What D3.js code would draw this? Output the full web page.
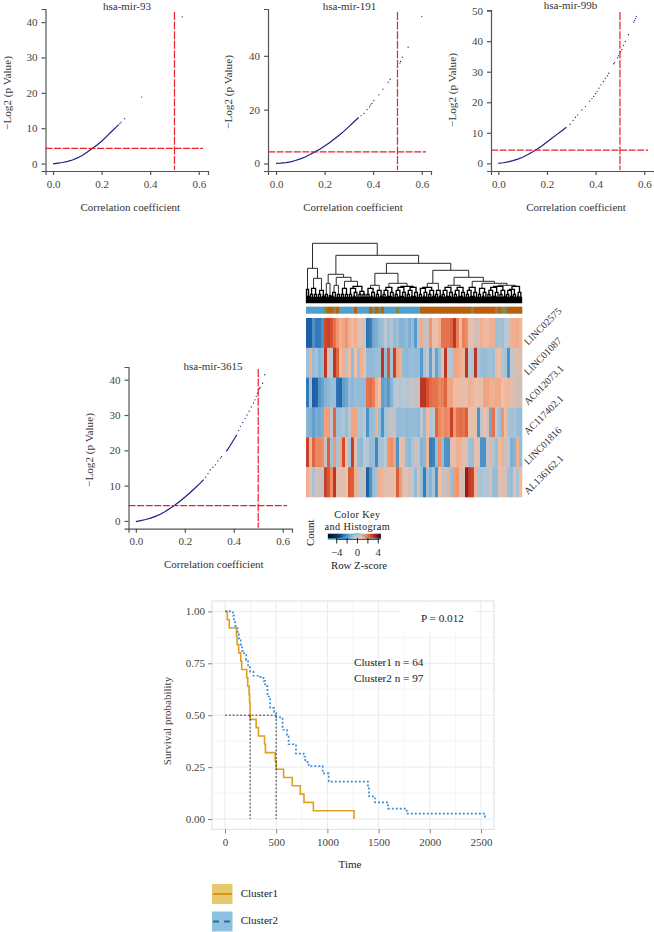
<!DOCTYPE html>
<html><head><meta charset="utf-8">
<style>html,body{margin:0;padding:0;background:#fff}svg{display:block}text{font-family:"Liberation Serif",serif}</style>
<script src="https://cdn.jsdelivr.net/npm/d3@7/dist/d3.min.js"></script>
</head><body><svg id="c" width="654" height="932"></svg>
<script>
// ---- volcano-like correlation panels
const mir93DenseR=[0,.02,.04,.06,.08,.10,.12,.14,.16,.18,.20,.22,.24,.26,.27];
const mir93DenseP=[-.1,.1,.3,.6,1.0,1.6,2.3,3.2,4.2,5.2,6.3,7.6,9.0,10.3,11];
const mir93DotR=[.275,.28,.295,.365,.532];
const mir93DotP=[11.3,11.7,12.7,18.8,41.5];
const mir191DenseR=[0,.02,.04,.06,.08,.10,.12,.14,.16,.18,.20,.22,.24,.26,.28,.30,.32,.34];
const mir191DenseP=[0,.1,.3,.6,1.1,1.7,2.4,3.3,4.3,5.3,6.5,7.7,9.1,10.5,12,13.7,15.4,17.1];
const mir191DotR=[.35,.362,.375,.385,.39,.395,.403,.423,.44,.462,.47,.51,.513,.52,.544,.6];
const mir191DotP=[17.8,18.6,20,21,21.7,22.3,23.4,25.5,27.6,30.2,31.3,37.3,37.9,39.5,43.2,54.6];
const mir99DenseR=[0,.02,.04,.06,.08,.10,.12,.14,.16,.18,.20,.22,.24,.26,.28];
const mir99DenseP=[0,.2,.5,.9,1.4,2.0,2.8,3.7,4.7,5.8,7,8.2,9.4,10.6,11.8];
const mir99DotR=[.295,.307,.317,.326,.344,.358,.375,.385,.392,.40,.406,.414,.422,.432,.44,.448,.454,.474,.478,.49,.494,.499,.503,.508,.515,.522,.535,.557,.56,.567,.565];
const mir99DotP=[12.8,14,15.1,15.9,17.5,18.6,20.4,21.2,21.9,22.8,23.5,24.6,25.7,26.8,27.9,28.7,29.5,32.6,33,34.5,35.2,36.1,36.6,37.2,38.6,39.9,42.1,46.2,46.8,48.1,47.4];
const mir3615DenseR=[0,.02,.04,.06,.08,.10,.12,.14,.16,.18,.20,.22,.24,.26,.277];
const mir3615DenseP=[-.2,.1,.4,.8,1.3,1.9,2.7,3.6,4.5,5.6,6.7,7.9,9.2,10.5,11.7];
const mir3615Dense2R=[.37,.385,.40,.413];
const mir3615Dense2P=[19.7,21.3,23,24.4];
const mir3615Dot1R=[.285,.295,.304,.315,.325,.335,.345,.35];
const mir3615Dot1P=[12.4,13.4,14.5,15.2,15.9,17,17.8,18.2];
const mir3615Dot2R=[.42,.427,.437,.446,.454,.463,.472,.481,.487,.492,.497,.502,.505,.508,.518,.527];
const mir3615Dot2P=[25.6,26.8,27.9,29,30,31.1,32.3,33.4,34.3,35.3,36.2,37.2,37.5,37.8,39,41.4];
const xTicks=[0,.2,.4,.6];
const pCut=4.32, rCut=.5;

// ---- heatmap z-scores (72 columns)
const geneNames=["LINC02575","LINC01087","AC012073.1","AC117402.1","LINC01816","AL136162.1"];
const rowLinc02575=[-3,-3,-2,-2.5,-2.5,-2,2.6,2.8,2.5,2,1.5,1,1.2,1.5,1,.8,1,.4,.4,-.3,-2.6,-2.4,-1.5,-1.3,-1,-.8,-.3,-.8,-.5,-1,-.8,-1.2,-1.2,-1,-1.3,-1,-1.8,-.4,1.1,-.2,-.1,1.5,.6,.6,1,2,2,2,2.2,3,1.8,.8,1.8,1.6,.5,.5,.1,.2,1,.8,.8,1,1,-.8,-.7,-.8,-.3,-.3,1,1,1.1,.9];
const rowLinc01087=[-.8,1,-1,-.7,-1.2,-1,3,.4,-.3,3,2.2,.8,1,-.5,.8,-1,.7,-.8,1,.5,-1,-1.1,-1,-.9,-.8,3,-1,2.4,-.6,2.8,1.2,1,-1,-1.1,-1,-.9,-1,-1,-1.8,-.6,-.3,-1.7,-.3,-1.6,-1,.6,3,-.2,-.5,1.2,1.2,1,.9,3,-.3,-.5,3,-.7,-.9,-1,-.8,-.7,-.9,.4,.7,-.5,-.6,-2,-.3,.3,.3,.2];
const rowAc012073=[-2.5,-.8,-3,-2.9,-1.9,-1.6,-1.2,-1.1,-.9,-.9,-2.6,-2.8,-1.7,-1.5,-1,-1.1,-.9,-1,-1,-1,2,2.1,1.8,1,.7,-1.7,-1.5,-1.8,-1.2,-.4,-.3,-.5,-.3,-.4,-.2,-.3,-.1,-.1,3,3,2.5,2.1,2,2,1.7,1.8,2.2,1.2,1.2,.8,.8,.5,.5,.5,1,.9,.6,.6,.5,1.2,1.2,1,1,1.1,1.1,.7,.8,.9,.4,.1,.1,0];
const rowAc117402=[-1.2,-1.3,-1.7,-1.4,-1.5,-1.3,1.3,1.3,-.2,2.2,-.8,-.7,-.5,-1,-.2,1.2,1.2,-.6,-.6,-.3,-2,-1,-.9,1,-.9,-2,-.7,-.5,-.1,-.2,-1,-1,-.9,-1.1,-1,-1,-1,-1.1,-.3,-1,.8,-.5,-.3,2.2,1.7,1.5,1.7,1.6,2.8,1.4,2,2.1,2,2.3,.6,.6,.4,-2,-.2,.7,.3,-1.5,2,-.3,-.8,1.5,.5,-.6,-.7,-.6,-.9,-1];
const rowLinc01816=[2.8,.9,2.2,1.7,1.7,1.6,-.1,2.3,-.8,1.4,-.6,1.1,2.6,.5,-.6,2.8,.4,-1,-1.1,-.3,-.4,-1,-.9,-2.2,-.7,-.6,-.3,1.5,1.6,1.2,-2,.6,.3,-1,-1.1,-.6,-.1,-.2,-1.2,-1.1,.9,-2.4,-2.3,-1,1.6,-1,-2,-2,.4,.4,1,1,.4,.3,-.8,-.9,.5,.3,-2,-2,-.2,.9,-.5,-.9,.8,1,-.1,-.2,-1.3,-1.2,1,-1];
const rowAl136162=[1,.5,-.6,.3,-.1,-.2,2.8,2.4,1.6,3,.4,.5,.4,.7,2.4,2.3,1,-.1,-.2,-.1,-3,-2,-1,-.7,1,.9,.4,.4,.5,.5,2.3,1.4,.4,.5,.1,-.3,-1,.3,-.9,-2.4,-.8,-1.2,-.6,-2,.7,-.1,-.1,1,-.9,1.4,1.5,.1,.1,3.6,2.9,2.7,.9,-.5,-.6,-.4,-.5,.3,-.9,-1,.4,.3,.2,-.8,-1,.4,-.6,.8];
const heatRows=[rowLinc02575,rowLinc01087,rowAc012073,rowAc117402,rowLinc01816,rowAl136162];
const sideGroups=[0,0,0,0,0,0,2,1,1,2,1,0,0,0,0,0,1,0,0,0,0,1,2,1,2,1,0,0,0,0,2,0,0,0,0,0,0,0,1,1,1,1,1,1,1,1,1,1,1,1,1,1,1,1,1,2,1,1,1,1,1,1,1,2,1,2,2,1,1,1,1,1];
const colorStops=[-5.7,-3.6,-3,-2,-1,-.3,0,.7,1.5,2.5,3.5,4.5];
const colorValues=["#0a0a12","#0d3b78","#1d5fa6","#4b92c6","#94bcd9","#b9c8d3","#cfbdb7","#efbfa6","#f0956d","#d8502e","#a01c20","#3c0308"];
const keyTicks=[-4,-2,0,2,4];
const keyLabels=[-4,0,4];
const histZ=[-5.7,-4.5,-3.5,-2.5,-1.5,-.6,0,.6,1.5,2.5,3.5,4.5];
const histN=[.1,.1,.15,.3,.65,.95,1,.9,.55,.25,.1,.05];

// ---- dendrogram: [height, left, right]; 0 is a leaf
const a3=[9,0,[6,0,0]], b4=[11,[7,0,0],[6,0,0]], c5=[13,a3,[7,0,0]], d7=[15,a3,b4], e9=[16,c5,b4], f12=[17,[14,c5,a3],b4];
const cladeA=[35,[14,0,[7,0,0]],[25,[15,a3,a3],c5]];
const cladeB=[29,[20,a3,[8,0,0]],[26,[18,b4,a3],[22,[15,a3,a3],[17,d7,[12,a3,a3]]]]];
const cladeC=[30,[18,d7,c5],[20,e9,[17,e9,e9]]];
const cladeD=[33,[20,[16,d7,c5],c5],[26,[18,e9,e9],[22,e9,[20,d7,[18,[17,e9,c5],f12]]]]];
const dendroRoot=[60,cladeA,[48,cladeB,[40,cladeC,cladeD]]];

// ---- survival curves
const c1Time=[0,23,42,112,118,134,154,163,212,222,235,240,245,304,327,386,395,490,500,572,657,735,771,863,1260];
const c1Surv=[1,.96,.92,.88,.84,.80,.76,.72,.68,.64,.60,.56,.48,.44,.40,.36,.32,.28,.24,.20,.16,.12,.08,.04,0];
const c2Time=[0,78,88,98,114,124,134,154,167,186,206,225,245,278,343,376,392,415,441,480,500,562,605,621,693,768,784,817,954,1013,1396,1406,1445,1465,1592,1775,2539];
const c2Surv=[1,.98,.95,.93,.92,.89,.87,.84,.81,.79,.765,.73,.71,.69,.685,.665,.64,.59,.535,.515,.49,.43,.405,.36,.315,.30,.275,.255,.22,.18,.155,.11,.10,.08,.05,.026,0];
const medianTimes=[245,500];
const kmXTicks=[0,500,1000,1500,2000,2500];
const kmYTicks=[0,.25,.5,.75,1];
const kmXMinor=[250,750,1250,1750,2250];
const kmYMinor=[.125,.375,.625,.875];

const svg=d3.select("#c");
const zip=(a,b)=>a.map((v,i)=>[v,b[i]]);
const inkTick="#444", navy="#1b2080", red="#e9202c";

function panel(o){
  const x=d3.scaleLinear().domain(o.xd).range(o.xr);
  const y=d3.scaleLinear().domain(o.yd).range(o.yr);
  const g=svg.append("g");
  const ax=g.append("g").attr("transform",`translate(0,${o.yr[0]})`).call(d3.axisBottom(x).tickValues(xTicks).tickFormat(d3.format(".1f")).tickSizeOuter(0).tickSize(4).tickPadding(5));
  const ay=g.append("g").attr("transform",`translate(${o.xr[0]},0)`).call(d3.axisLeft(y).tickValues(o.yt).tickSizeOuter(0).tickSize(4).tickPadding(4));
  [ax,ay].forEach(a=>{a.selectAll("text").attr("font-size",11).attr("fill",inkTick).style("font-family",'"Liberation Serif",serif');a.selectAll("line,path").attr("stroke","#555").attr("stroke-width",1.2);});
  const line=d3.line().x(d=>x(d[0])).y(d=>y(d[1]));
  o.dense.forEach(d=>g.append("path").attr("d",line(d)).attr("fill","none").attr("stroke",navy).attr("stroke-width",1.2));
  o.dots.forEach(d=>g.selectAll(null).data(d).join("circle").attr("cx",v=>x(v[0])).attr("cy",v=>y(v[1])).attr("r",.65).attr("fill",navy));
  g.append("line").attr("x1",o.xr[0]).attr("x2",o.hEnd).attr("y1",y(pCut)).attr("y2",y(pCut)).attr("stroke",red).attr("stroke-width",1.2).attr("stroke-dasharray","7 1.6");
  g.append("line").attr("x1",x(rCut)).attr("x2",x(rCut)).attr("y1",o.vTop).attr("y2",o.yr[0]-1).attr("stroke",red).attr("stroke-width",1.2).attr("stroke-dasharray","8 1.6");
  g.append("text").attr("x",o.titleX).attr("y",o.titleY).attr("text-anchor","middle").attr("font-size",11).attr("fill","#333").text(o.title);
  g.append("text").attr("x",(o.xr[0]+o.xr[1])/2+3.5).attr("y",o.yr[0]+39.5).attr("text-anchor","middle").attr("font-size",11).attr("fill","#333").text("Correlation coefficient");
  g.append("text").attr("transform",`translate(${o.ylX},${o.ylY}) rotate(-90)`).attr("text-anchor","middle").attr("font-size",11.2).attr("fill","#333").text("−Log2 (p Value)");
}
panel({title:"hsa-mir-93",titleX:127,titleY:9.5,xd:[-.031,.638],xr:[45.5,208],yd:[-2.1,43.7],yr:[171,9],yt:[0,10,20,30,40],hEnd:203,vTop:12,
  dense:[zip(mir93DenseR,mir93DenseP)],dots:[zip(mir93DotR,mir93DotP)],ylX:11,ylY:93});
panel({title:"hsa-mir-191",titleX:349.5,titleY:9.5,xd:[-.033,.638],xr:[268,431],yd:[-2.8,57.4],yr:[171,9],yt:[0,20,40],hEnd:426,vTop:12,
  dense:[zip(mir191DenseR,mir191DenseP)],dots:[zip(mir191DotR,mir191DotP)],ylX:232,ylY:92});
panel({title:"hsa-mir-99b",titleX:570.5,titleY:8.5,xd:[-.03,.64],xr:[491,654],yd:[-2.5,50.2],yr:[171,10],yt:[0,10,20,30,40,50],hEnd:648,vTop:12,
  dense:[zip(mir99DenseR,mir99DenseP)],dots:[zip(mir99DotR,mir99DotP)],ylX:456,ylY:90});
panel({title:"hsa-mir-3615",titleX:213,titleY:369.5,xd:[-.03,.638],xr:[128.5,292],yd:[-2.2,43.6],yr:[528.7,367],yt:[0,10,20,30,40],hEnd:287,vTop:369,
  dense:[zip(mir3615DenseR,mir3615DenseP),zip(mir3615Dense2R,mir3615Dense2P)],dots:[zip(mir3615Dot1R,mir3615Dot1P),zip(mir3615Dot2R,mir3615Dot2P)],ylX:93,ylY:450});

// ---- heatmap
const colX=d3.scaleBand().domain(d3.range(72)).range([306,522]);
const rowY=d3.scaleBand().domain(d3.range(6)).range([318,497]);
const heatColor=d3.scaleLinear().domain(colorStops).range(colorValues);
const sideColor=d3.scaleOrdinal().domain([0,1,2]).range(["#4f9fcf","#b8600e","#7e8b50"]);
heatRows.forEach((row,r)=>{
  svg.append("g").selectAll("rect").data(row).join("rect")
    .attr("x",(d,i)=>colX(i)).attr("y",rowY(r)).attr("width",colX.bandwidth()+.3).attr("height",rowY.bandwidth()+.3).attr("fill",d=>heatColor(d));
});
svg.append("g").selectAll("rect").data(sideGroups).join("rect")
  .attr("x",(d,i)=>colX(i)).attr("y",306.7).attr("width",colX.bandwidth()+.3).attr("height",7).attr("fill",d=>sideColor(d));
geneNames.forEach((n,r)=>{
  svg.append("text").attr("transform",`translate(528,${rowY(r)+rowY.bandwidth()-2}) rotate(-45)`).attr("font-size",10).attr("fill","#333").text(n);
});

// ---- dendrogram
const root=d3.hierarchy(dendroRoot,d=>Array.isArray(d)?d.slice(1):null);
const leaves=root.leaves();
const leafX=d3.scalePoint().domain(d3.range(leaves.length)).range([306.5,521.5]);
const dendroH=d3.scaleLinear().domain([0,60]).range([303.3,243.3]);
leaves.forEach((l,i)=>{l.lx=leafX(i);l.h=0;});
root.eachAfter(n=>{if(n.children){n.lx=d3.mean(n.children,c=>c.lx);n.h=n.data[0];}});
const upper=d3.path(), lower=d3.path();
root.each(n=>{if(n.children){
  const [a,b]=n.children, p=n.h>=18?upper:lower;
  p.moveTo(a.lx,dendroH(a.h));p.lineTo(a.lx,dendroH(n.h));p.lineTo(b.lx,dendroH(n.h));p.lineTo(b.lx,dendroH(b.h));
}});
svg.append("path").attr("d",upper.toString()).attr("fill","none").attr("stroke","#2a2a2a").attr("stroke-width",1);
svg.append("path").attr("d",lower.toString()).attr("fill","none").attr("stroke","#000").attr("stroke-width",1.35);

// ---- colour key
const keyX=d3.scaleLinear().domain([-4,4]).range([336.7,378.3]);
const keyY=d3.scaleLinear().domain([0,1]).range([539.3,533.7]);
const defs=svg.append("defs");
const grad=defs.append("linearGradient").attr("id","kg");
colorStops.forEach((s,i)=>grad.append("stop").attr("offset",(s+5.7)/10.2).attr("stop-color",colorValues[i]));
svg.append("rect").attr("x",keyX(-5.7)).attr("y",533.7).attr("width",keyX(4.5)-keyX(-5.7)).attr("height",5.6).attr("fill","url(#kg)");
svg.append("path").attr("d",d3.line().x(d=>keyX(d[0])).y(d=>keyY(d[1])).curve(d3.curveMonotoneX)(zip(histZ,histN))).attr("fill","none").attr("stroke","#49b7d6").attr("stroke-width",.9);
svg.append("g").selectAll("line").data(keyTicks).join("line").attr("x1",d=>keyX(d)).attr("x2",d=>keyX(d)).attr("y1",538).attr("y2",543.5).attr("stroke","#111").attr("stroke-width",.9);
svg.append("line").attr("x1",keyX(-4)).attr("x2",keyX(4)).attr("y1",539.5).attr("y2",539.5).attr("stroke","#111").attr("stroke-width",.7);
svg.append("g").selectAll("text").data(keyLabels).join("text").attr("x",d=>keyX(d)).attr("y",555.5).attr("text-anchor","middle").attr("font-size",10.8).attr("fill","#333").text(d=>d<0?"−"+(-d):d);
[["Color Key",357.3,517.5,10.3,.35],["and Histogram",357.3,529.6,10.3,.35],["Row Z-score",359,568.5,10.8,0]].forEach(t=>
  svg.append("text").attr("x",t[1]).attr("y",t[2]).attr("text-anchor","middle").attr("font-size",t[3]).attr("letter-spacing",t[4]).attr("fill","#222").text(t[0]));
svg.append("text").attr("transform","translate(314,532.7) rotate(-90)").attr("text-anchor","middle").attr("font-size",10.8).attr("fill","#222").text("Count");

// ---- survival plot
const kx=d3.scaleLinear().domain([-127,2627]).range([212,494]);
const ky=d3.scaleLinear().domain([-.05,1.05]).range([829.4,601]);
const km=svg.append("g");
km.selectAll(".a").data(kmXMinor).join("line").attr("x1",d=>kx(d)).attr("x2",d=>kx(d)).attr("y1",601).attr("y2",829.4).attr("stroke","#f1f5f6");
km.selectAll(".b").data(kmYMinor).join("line").attr("y1",d=>ky(d)).attr("y2",d=>ky(d)).attr("x1",212).attr("x2",494).attr("stroke","#f1f5f6");
km.selectAll(".c").data(kmXTicks).join("line").attr("x1",d=>kx(d)).attr("x2",d=>kx(d)).attr("y1",601).attr("y2",829.4).attr("stroke","#e5ecef");
km.selectAll(".d").data(kmYTicks).join("line").attr("y1",d=>ky(d)).attr("y2",d=>ky(d)).attr("x1",212).attr("x2",494).attr("stroke","#e5ecef");
km.append("rect").attr("x",400).attr("y",602).attr("width",75).attr("height",30).attr("fill","#fff");
km.append("rect").attr("x",212).attr("y",601).attr("width",282).attr("height",228.4).attr("fill","none").attr("stroke","#dfe4e6").attr("stroke-width",1.2);
const axK=km.append("g").attr("transform","translate(0,829.4)").call(d3.axisBottom(kx).tickValues(kmXTicks).tickFormat(d3.format("d")).tickSizeOuter(0).tickSize(4).tickPadding(5));
const ayK=km.append("g").attr("transform","translate(212,0)").call(d3.axisLeft(ky).tickValues(kmYTicks).tickFormat(d3.format(".2f")).tickSizeOuter(0).tickSize(4).tickPadding(3));
[axK,ayK].forEach(a=>{a.select("path").remove();a.selectAll("line").attr("stroke","#666").attr("stroke-width",.8);a.selectAll("text").attr("font-size",11).attr("fill",inkTick).style("font-family",'"Liberation Serif",serif');});
const step=d3.line().x(d=>kx(d[0])).y(d=>ky(d[1])).curve(d3.curveStepAfter);
km.append("path").attr("d",step(zip(c1Time,c1Surv))).attr("fill","none").attr("stroke","#df9f1f").attr("stroke-width",1.6);
km.append("path").attr("d",step(zip(c2Time,c2Surv))).attr("fill","none").attr("stroke","#3f90d4").attr("stroke-width",1.7).attr("stroke-dasharray","2 2");
km.append("line").attr("x1",kx(0)).attr("x2",kx(medianTimes[1])).attr("y1",ky(.5)).attr("y2",ky(.5)).attr("stroke","#222").attr("stroke-width",.9).attr("stroke-dasharray","2 1.8");
km.selectAll(".m").data(medianTimes).join("line").attr("x1",d=>kx(d)).attr("x2",d=>kx(d)).attr("y1",ky(.5)).attr("y2",ky(0)).attr("stroke","#222").attr("stroke-width",.9).attr("stroke-dasharray","2 1.8");
[["P = 0.012",421,622],["Cluster1 n = 64",354,666],["Cluster2 n = 97",354,682]].forEach(t=>
  km.append("text").attr("x",t[1]).attr("y",t[2]).attr("font-size",11.2).attr("fill","#222").text(t[0]));
km.append("text").attr("x",350).attr("y",868).attr("text-anchor","middle").attr("font-size",11).attr("fill","#222").text("Time");
km.append("text").attr("transform","translate(171,721) rotate(-90)").attr("text-anchor","middle").attr("font-size",11).attr("fill","#444").text("Survival probability");
// legend
[["Cluster1",884,"#e8c96c","#d4900f","none"],["Cluster2",911.5,"#8fc0de","#1a6dbd","6 5"]].forEach(l=>{
  km.append("rect").attr("x",212).attr("y",l[1]).attr("width",20.5).attr("height",20).attr("fill",l[2]);
  km.append("line").attr("x1",213).attr("x2",232).attr("y1",l[1]+10).attr("y2",l[1]+10).attr("stroke",l[3]).attr("stroke-width",1.8).attr("stroke-dasharray",l[4]);
  km.append("text").attr("x",240.7).attr("y",l[1]+12.5).attr("font-size",11).attr("fill","#222").text(l[0]);
});
</script></body></html>
